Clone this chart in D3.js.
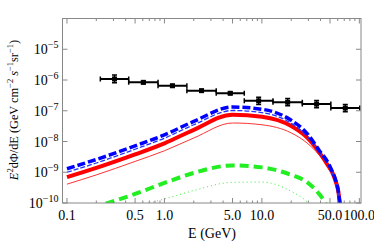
<!DOCTYPE html>
<html>
<head>
<meta charset="UTF-8">
<script src="https://cdnjs.cloudflare.com/ajax/libs/d3/7.8.5/d3.min.js"></script>
<style>
  body { margin: 0; background: #fff; }
  svg text { font-family: "Liberation Serif", "DejaVu Serif", serif; fill: #000; }
</style>
</head>
<body>
<svg id="chart" width="374" height="247"></svg>
<script>
// model curves: energy grid (GeV) and E^2 dPhi/dE
const curveE = [0.1, 0.2, 0.5, 1, 2, 5, 10, 20, 29, 38.5, 48, 53, 57.5, 60.5, 62.5, 64.5, 66];
const blueThick = [1.3e-9, 2.6e-9, 7.2e-9, 1.65e-8, 4.5e-8, 1.32e-7, 1.12e-7, 4.9e-8, 1.85e-8, 5.3e-9, 2.0e-9, 1.03e-9, 5.2e-10, 2.65e-10, 1.25e-10, 5e-11, 1e-12];
const blueThin  = [1.0e-9, 2.0e-9, 5.6e-9, 1.28e-8, 3.5e-8, 1.02e-7, 8.7e-8, 3.9e-8, 1.5e-8, 4.4e-9, 1.7e-9, 9.0e-10, 4.6e-10, 2.4e-10, 1.15e-10, 4.5e-11, 1e-12];
const redThick  = [6.9e-10, 1.38e-9, 3.8e-9, 8.7e-9, 2.4e-8, 7.4e-8, 6.4e-8, 3.2e-8, 1.37e-8, 4.6e-9, 1.6e-9, 9.5e-10, 4.8e-10, 2.65e-10, 1.25e-10, 4.5e-11, 1e-12];
const redThin   = [4.1e-10, 8.2e-10, 2.25e-9, 5.0e-9, 1.3e-8, 4.0e-8, 3.5e-8, 1.9e-8, 9.0e-9, 3.7e-9, 1.5e-9, 8.8e-10, 4.8e-10, 2.65e-10, 1.25e-10, 4.5e-11, 1e-12];

const greenE = [0.25, 0.5, 1, 2, 5, 10, 20, 29, 38.5, 44, 48];
const greenThick = [9.5e-11, 1.97e-10, 4.5e-10, 9.5e-10, 1.67e-9, 1.44e-9, 8.2e-10, 4.8e-10, 2.0e-10, 1.1e-10, 6e-11];
const dotE = [0.7, 1, 2, 5, 10, 20, 29, 32];
const greenDot = [1.0e-10, 1.35e-10, 2.55e-10, 4.7e-10, 4.8e-10, 2.4e-10, 1.1e-10, 8e-11];

// data points: energy bins and flux with errors
const binLo = [0.22, 0.43, 0.86, 1.7, 3.4, 6.6, 13, 26, 51];
const binHi = [0.43, 0.86, 1.7, 3.4, 6.6, 13, 26, 51, 101];
const flux  = [1.08e-6, 8.4e-7, 6.5e-7, 4.5e-7, 3.7e-7, 2.1e-7, 1.9e-7, 1.65e-7, 1.22e-7];
const errLo = [8.1e-7, 7.6e-7, 5.9e-7, 4.1e-7, 3.35e-7, 1.6e-7, 1.45e-7, 1.25e-7, 0.93e-7];
const errHi = [1.45e-6, 9.3e-7, 7.2e-7, 4.95e-7, 4.1e-7, 2.75e-7, 2.5e-7, 2.15e-7, 1.6e-7];

const xMajor = [0.1, 0.5, 1, 5, 10, 50, 100];
const xMajorLabels = ["0.1", "0.5", "1.0", "5.0", "10.0", "50.0", "100.0"];
const xMinor = [0.2, 0.3, 0.4, 0.6, 0.7, 0.8, 0.9, 2, 3, 4, 6, 7, 8, 9, 20, 30, 40, 60, 70, 80, 90];
const yExp = [-10, -9, -8, -7, -6, -5];

const svg = d3.select("#chart");
const mLeft = 62.5, mRight = 361, mTop = 18.5, mBottom = 203;

const x = d3.scaleLog().domain([0.09, 104]).range([mLeft, mRight]);
const y = d3.scaleLog().domain([1e-10, 1e-4]).range([mBottom, mTop]);

svg.append("defs").append("clipPath").attr("id", "clip")
  .append("rect").attr("x", mLeft).attr("y", mTop)
  .attr("width", mRight - mLeft).attr("height", mBottom - mTop);

const plot = svg.append("g").attr("clip-path", "url(#clip)");

const line = d3.line().x(d => x(d[0])).y(d => y(d[1])).curve(d3.curveMonotoneX);

function drawCurve(es, vs, color, width, dash) {
  plot.append("path")
    .datum(es.map((e, i) => [e, vs[i]]))
    .attr("d", line)
    .attr("fill", "none")
    .attr("stroke", color)
    .attr("stroke-width", width)
    .attr("stroke-dasharray", dash);
}

drawCurve(dotE, greenDot, "#33ee33", 1, "1,3");
drawCurve(greenE, greenThick, "#22ee22", 4, "9,5");
drawCurve(curveE, redThin, "#ff3333", 1, null);
drawCurve(curveE, redThick, "#ff0000", 4, null);
drawCurve(curveE, blueThin, "#2233ff", 1.3, "5,2");
drawCurve(curveE, blueThick, "#0000ff", 3.5, "8,3");

// data points
const pts = plot.append("g").attr("stroke", "#000").attr("fill", "#000");
flux.forEach((f, i) => {
  const cx = x(Math.sqrt(binLo[i] * binHi[i])), cy = y(f);
  const x0 = x(binLo[i]), x1 = x(binHi[i]);
  pts.append("line").attr("x1", x0).attr("x2", x1).attr("y1", cy).attr("y2", cy).attr("stroke-width", 2);
  pts.append("line").attr("x1", x0).attr("x2", x0).attr("y1", cy - 2.5).attr("y2", cy + 2.5).attr("stroke-width", 1.5);
  pts.append("line").attr("x1", x1).attr("x2", x1).attr("y1", cy - 2.5).attr("y2", cy + 2.5).attr("stroke-width", 1.5);
  const ylo = y(errLo[i]), yhi = y(errHi[i]);
  pts.append("line").attr("x1", cx).attr("x2", cx).attr("y1", ylo).attr("y2", yhi).attr("stroke-width", 1.5);
  pts.append("line").attr("x1", cx - 2.5).attr("x2", cx + 2.5).attr("y1", ylo).attr("y2", ylo).attr("stroke-width", 1.5);
  pts.append("line").attr("x1", cx - 2.5).attr("x2", cx + 2.5).attr("y1", yhi).attr("y2", yhi).attr("stroke-width", 1.5);
  pts.append("rect").attr("x", cx - 2.5).attr("y", cy - 2.5).attr("width", 5).attr("height", 5).attr("stroke", "none");
});

// frame and ticks
const axisColor = "#888";
svg.append("rect").attr("x", mLeft).attr("y", mTop)
  .attr("width", mRight - mLeft).attr("height", mBottom - mTop)
  .attr("fill", "none").attr("stroke", axisColor).attr("stroke-width", 1);

const ticks = svg.append("g").attr("stroke", axisColor).attr("stroke-width", 1);
xMajor.forEach(v => {
  const px = x(v);
  ticks.append("line").attr("x1", px).attr("x2", px).attr("y1", mBottom).attr("y2", mBottom - 5);
  ticks.append("line").attr("x1", px).attr("x2", px).attr("y1", mTop).attr("y2", mTop + 5);
});
xMinor.forEach(v => {
  const px = x(v);
  ticks.append("line").attr("x1", px).attr("x2", px).attr("y1", mBottom).attr("y2", mBottom - 2.5);
  ticks.append("line").attr("x1", px).attr("x2", px).attr("y1", mTop).attr("y2", mTop + 2.5);
});
yExp.concat([-4]).forEach(p => {
  const py = y(Math.pow(10, p));
  ticks.append("line").attr("x1", mLeft).attr("x2", mLeft + 5).attr("y1", py).attr("y2", py);
  ticks.append("line").attr("x1", mRight).attr("x2", mRight - 5).attr("y1", py).attr("y2", py);
});

// tick labels
xMajor.forEach((v, i) => {
  svg.append("text").attr("x", x(v)).attr("y", mBottom + 17)
    .attr("text-anchor", "middle").attr("font-size", 14)
    .text(xMajorLabels[i]);
});
yExp.forEach(p => {
  const t = svg.append("text").attr("x", mLeft - 4).attr("y", y(Math.pow(10, p)) + 5)
    .attr("text-anchor", "end").attr("font-size", 14);
  t.append("tspan").text("10");
  t.append("tspan").attr("dy", -6).attr("font-size", 10).text("\u2212" + Math.abs(p));
});

// axis titles
svg.append("text").attr("x", 212).attr("y", 238)
  .attr("text-anchor", "middle").attr("font-size", 14).text("E (GeV)");

const yl = svg.append("text").attr("transform", "translate(18,110) rotate(-90)")
  .attr("text-anchor", "middle").attr("font-size", 12.3);
yl.append("tspan").attr("font-style", "italic").text("E");
yl.append("tspan").attr("dy", -5).attr("font-size", 8.5).text("2");
yl.append("tspan").attr("dy", 5).text("d\u03A6/dE (GeV cm");
yl.append("tspan").attr("dy", -5).attr("font-size", 8.5).text("\u22122");
yl.append("tspan").attr("dy", 5).text(" ");
yl.append("tspan").attr("font-style", "italic").text("s");
yl.append("tspan").attr("dy", -5).attr("font-size", 8.5).text("\u22121");
yl.append("tspan").attr("dy", 5).text("sr");
yl.append("tspan").attr("dy", -5).attr("font-size", 8.5).text("\u22121");
yl.append("tspan").attr("dy", 5).text(")");
</script>
</body>
</html>
